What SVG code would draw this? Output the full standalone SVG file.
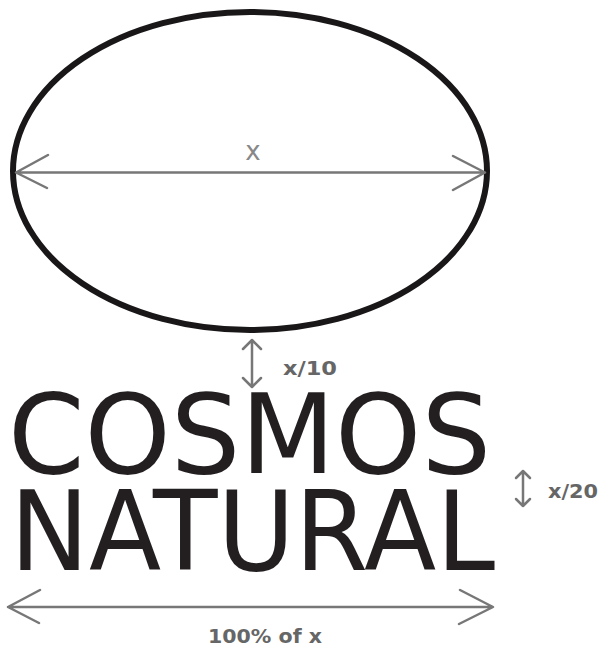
<svg xmlns="http://www.w3.org/2000/svg" width="602" height="650" viewBox="0 0 602 650">
<style>
.dim{stroke:#777;stroke-width:2.5;fill:none;stroke-linecap:round;stroke-linejoin:round}
.lbl{font-family:"DejaVu Sans",Verdana,sans-serif;font-weight:bold;fill:#666}
.logo{font-family:"DejaVu Sans",Verdana,sans-serif;fill:#231f20;font-size:110px}
</style>
<rect width="602" height="650" fill="#fff"/>
<g id="oval">
<ellipse cx="250" cy="171" rx="237" ry="159" fill="none" stroke="#1a1718" stroke-width="6"/>
</g>
<g id="connectors">
<path class="dim" d="M16 172.5H484M48 155L16 172.5L47 188M453 156L485 172.5L453 190"/>
<path class="dim" d="M252 341V386M243 349L252 340L261 349M243 378L252 387L261 378"/>
<path class="dim" d="M523 471V506M516 478L523 471L530 478M516 499L523 506L530 499"/>
<path class="dim" d="M8 607H492M40 590L8 607L39 623M460 590L493 607L459 624"/>
</g>
<g id="label-x"><text x="253" y="160" text-anchor="middle" font-family="DejaVu Sans,sans-serif" font-size="26" fill="#888">x</text></g>
<g id="label-x10"><text class="lbl" x="283" y="375" font-size="19" textLength="54" lengthAdjust="spacingAndGlyphs">x/10</text></g>
<g id="label-x20"><text class="lbl" x="548" y="498" font-size="19" textLength="50" lengthAdjust="spacingAndGlyphs">x/20</text></g>
<g id="label-100"><text class="lbl" x="208" y="643" font-size="20" textLength="114" lengthAdjust="spacingAndGlyphs">100% of x</text></g>
<g id="cosmos"><text class="logo" x="8" y="473" textLength="483" lengthAdjust="spacingAndGlyphs">COSMOS</text></g>
<g id="natural"><text class="logo" x="10" y="570" textLength="485" lengthAdjust="spacingAndGlyphs">NATURAL</text></g>
</svg>
